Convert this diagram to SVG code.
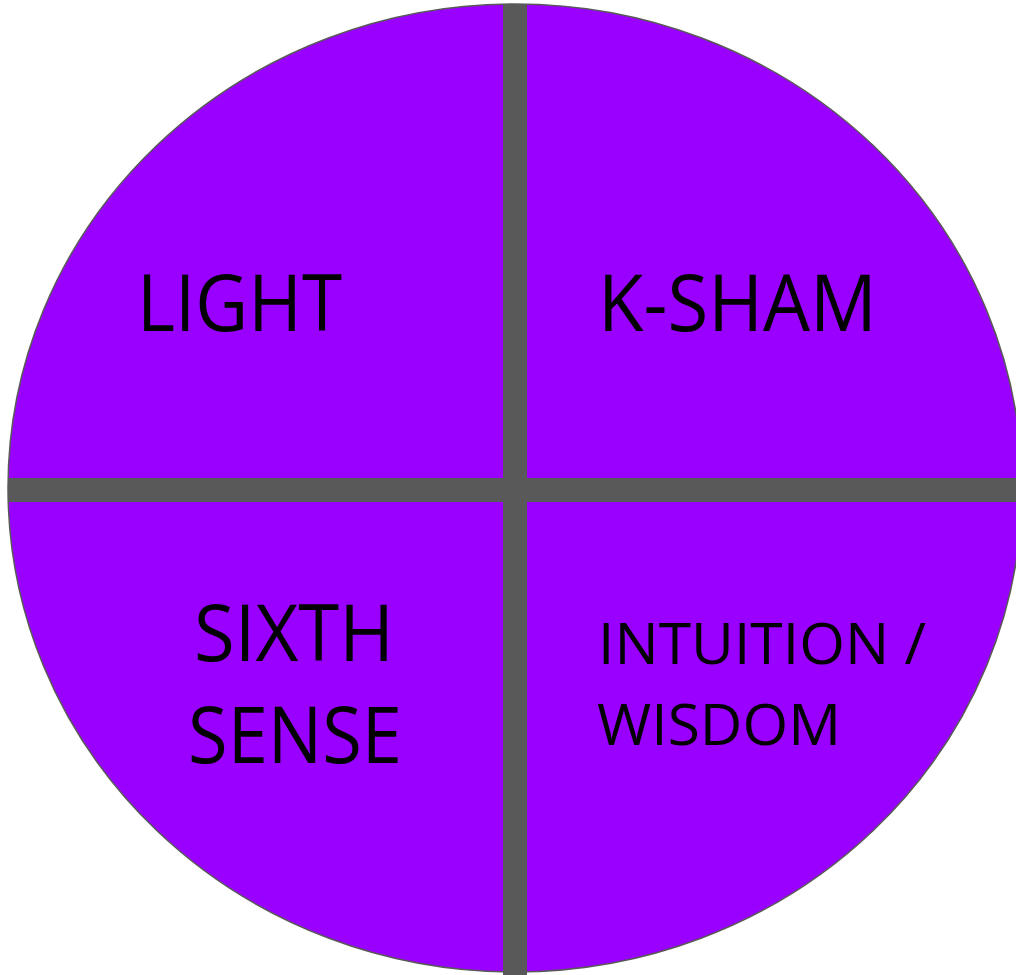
<svg xmlns="http://www.w3.org/2000/svg" width="1016" height="975" viewBox="0 0 1016 975">
<style>
.q{fill:#9900FF;stroke:#595959;stroke-width:1.5}
.bar{fill:#595959}
.t{font-family:"Open Sans","Liberation Sans",sans-serif;fill:#000}
.big{font-size:78px}
.small{font-size:57px}
</style>
<rect width="1016" height="975" fill="#fff"/>
<g id="circle">
<ellipse class="q" cx="515" cy="488" rx="507" ry="484"/>
</g>
<g id="dividers">
<rect class="bar" x="503" y="4" width="24" height="971"/>
<rect class="bar" x="8" y="478" width="1008" height="24"/>
</g>
<g id="light"><text class="t big" x="137" y="331" textLength="205" lengthAdjust="spacingAndGlyphs">LIGHT</text></g>
<g id="ksham"><text class="t big" x="598" y="331" textLength="279" lengthAdjust="spacingAndGlyphs">K-SHAM</text></g>
<g id="sixth-sense">
<text class="t big" x="194" y="661" textLength="200" lengthAdjust="spacingAndGlyphs">SIXTH</text>
<text class="t big" x="188" y="763" textLength="214" lengthAdjust="spacingAndGlyphs">SENSE</text>
</g>
<g id="intuition-wisdom">
<text class="t small" x="598" y="664" textLength="328" lengthAdjust="spacingAndGlyphs">INTUITION /</text>
<text class="t small" x="597" y="745" textLength="244" lengthAdjust="spacingAndGlyphs">WISDOM</text>
</g>
</svg>
